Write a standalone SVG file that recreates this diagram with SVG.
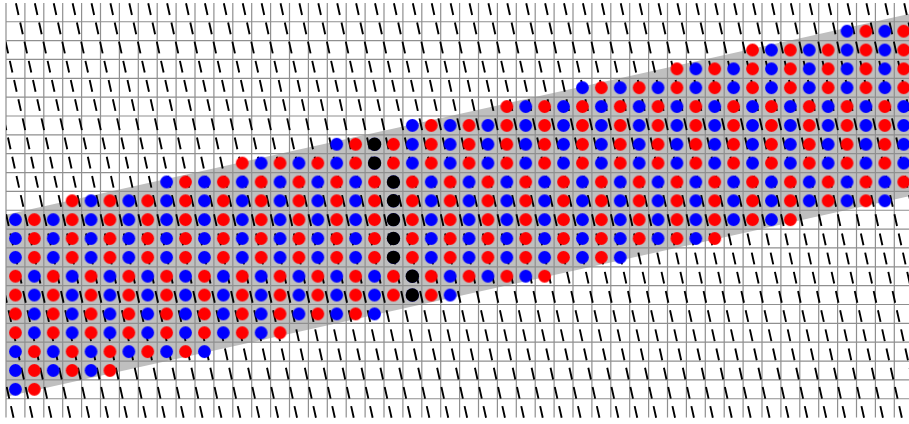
<svg xmlns="http://www.w3.org/2000/svg" xmlns:xlink="http://www.w3.org/1999/xlink" width="909" height="424" viewBox="0 0 909 424">
<style>
.grid{fill:none;stroke:#8f8f8f;stroke-width:1.2}
.seg{stroke:#000;stroke-width:1.9;stroke-dasharray:11.99 7.66;fill:none}
.band{fill:#bfbfbf}
.blk{fill:#000}
</style>
<defs>
<pattern id="pE" patternUnits="userSpaceOnUse" x="6" y="2.9" width="37.8" height="18.85">
<circle cx="9.45" cy="9.425" r="6.4" fill="#ff0000"/><circle cx="28.35" cy="9.425" r="6.4" fill="#0000ff"/>
</pattern>
<pattern id="pO" patternUnits="userSpaceOnUse" x="6" y="2.9" width="37.8" height="18.85">
<circle cx="9.45" cy="9.425" r="6.4" fill="#0000ff"/><circle cx="28.35" cy="9.425" r="6.4" fill="#ff0000"/>
</pattern>
<clipPath id="cl"><rect x="6" y="0" width="903" height="424"/></clipPath>
<line id="L" x1="15.93" y1="3.3" x2="108.09" y2="418"/>
</defs>
<rect width="909" height="424" fill="#fff"/>
<g id="band"><polygon class="band" points="6,214.67 909,14 909,196.2 6,396.87"/></g>
<g id="grid">
<path class="grid" d="M6 2.9V417.6M24.9 2.9V417.6M43.8 2.9V417.6M62.7 2.9V417.6M81.6 2.9V417.6M100.5 2.9V417.6M119.4 2.9V417.6M138.3 2.9V417.6M157.2 2.9V417.6M176.1 2.9V417.6M195 2.9V417.6M213.9 2.9V417.6M232.8 2.9V417.6M251.7 2.9V417.6M270.6 2.9V417.6M289.5 2.9V417.6M308.4 2.9V417.6M327.3 2.9V417.6M346.2 2.9V417.6M365.1 2.9V417.6M384 2.9V417.6M402.9 2.9V417.6M421.8 2.9V417.6M440.7 2.9V417.6M459.6 2.9V417.6M478.5 2.9V417.6M497.4 2.9V417.6M516.3 2.9V417.6M535.2 2.9V417.6M554.1 2.9V417.6M573 2.9V417.6M591.9 2.9V417.6M610.8 2.9V417.6M629.7 2.9V417.6M648.6 2.9V417.6M667.5 2.9V417.6M686.4 2.9V417.6M705.3 2.9V417.6M724.2 2.9V417.6M743.1 2.9V417.6M762 2.9V417.6M780.9 2.9V417.6M799.8 2.9V417.6M818.7 2.9V417.6M837.6 2.9V417.6M856.5 2.9V417.6M875.4 2.9V417.6M894.3 2.9V417.6
M6 21.75H909M6 40.6H909M6 59.45H909M6 78.3H909M6 97.15H909M6 116H909M6 134.85H909M6 153.7H909M6 172.55H909M6 191.4H909M6 210.25H909M6 229.1H909M6 247.95H909M6 266.8H909M6 285.65H909M6 304.5H909M6 323.35H909M6 342.2H909M6 361.05H909M6 379.9H909M6 398.75H909"/>
</g>
<g id="segments" class="seg" clip-path="url(#cl)">
<use xlink:href="#L" x="-94.5"/><use xlink:href="#L" x="-75.6"/><use xlink:href="#L" x="-56.7"/><use xlink:href="#L" x="-37.8"/><use xlink:href="#L" x="-18.9"/>
<use xlink:href="#L" x="0"/><use xlink:href="#L" x="18.9"/><use xlink:href="#L" x="37.8"/><use xlink:href="#L" x="56.7"/><use xlink:href="#L" x="75.6"/>
<use xlink:href="#L" x="94.5"/><use xlink:href="#L" x="113.4"/><use xlink:href="#L" x="132.3"/><use xlink:href="#L" x="151.2"/><use xlink:href="#L" x="170.1"/>
<use xlink:href="#L" x="189"/><use xlink:href="#L" x="207.9"/><use xlink:href="#L" x="226.8"/><use xlink:href="#L" x="245.7"/><use xlink:href="#L" x="264.6"/>
<use xlink:href="#L" x="283.5"/><use xlink:href="#L" x="302.4"/><use xlink:href="#L" x="321.3"/><use xlink:href="#L" x="340.2"/><use xlink:href="#L" x="359.1"/>
<use xlink:href="#L" x="378"/><use xlink:href="#L" x="396.9"/><use xlink:href="#L" x="415.8"/><use xlink:href="#L" x="434.7"/><use xlink:href="#L" x="453.6"/>
<use xlink:href="#L" x="472.5"/><use xlink:href="#L" x="491.4"/><use xlink:href="#L" x="510.3"/><use xlink:href="#L" x="529.2"/><use xlink:href="#L" x="548.1"/>
<use xlink:href="#L" x="567"/><use xlink:href="#L" x="585.9"/><use xlink:href="#L" x="604.8"/><use xlink:href="#L" x="623.7"/><use xlink:href="#L" x="642.6"/>
<use xlink:href="#L" x="661.5"/><use xlink:href="#L" x="680.4"/><use xlink:href="#L" x="699.3"/><use xlink:href="#L" x="718.2"/><use xlink:href="#L" x="737.1"/>
<use xlink:href="#L" x="756"/><use xlink:href="#L" x="774.9"/><use xlink:href="#L" x="793.8"/><use xlink:href="#L" x="812.7"/><use xlink:href="#L" x="831.6"/>
<use xlink:href="#L" x="850.5"/><use xlink:href="#L" x="869.4"/><use xlink:href="#L" x="888.3"/>
</g>
<g id="dots">
<rect x="837.6" y="21.75" width="75.6" height="18.85" fill="url(#pO)"/>
<rect x="743.1" y="40.6" width="170.1" height="18.85" fill="url(#pO)"/>
<rect x="667.5" y="59.45" width="245.7" height="18.85" fill="url(#pO)"/>
<rect x="573" y="78.3" width="340.2" height="18.85" fill="url(#pO)"/>
<rect x="497.4" y="97.15" width="415.8" height="18.85" fill="url(#pE)"/>
<rect x="402.9" y="116" width="510.3" height="18.85" fill="url(#pE)"/>
<rect x="327.3" y="134.85" width="585.9" height="18.85" fill="url(#pE)"/>
<rect x="232.8" y="153.7" width="680.4" height="18.85" fill="url(#pE)"/>
<rect x="157.2" y="172.55" width="756" height="18.85" fill="url(#pO)"/>
<rect x="62.7" y="191.4" width="831.6" height="18.85" fill="url(#pO)"/>
<rect x="6" y="210.25" width="793.8" height="18.85" fill="url(#pO)"/>
<rect x="6" y="229.1" width="718.2" height="18.85" fill="url(#pO)"/>
<rect x="6" y="247.95" width="623.7" height="18.85" fill="url(#pO)"/>
<rect x="6" y="266.8" width="548.1" height="18.85" fill="url(#pE)"/>
<rect x="6" y="285.65" width="453.6" height="18.85" fill="url(#pE)"/>
<rect x="6" y="304.5" width="378" height="18.85" fill="url(#pE)"/>
<rect x="6" y="323.35" width="283.5" height="18.85" fill="url(#pE)"/>
<rect x="6" y="342.2" width="207.9" height="18.85" fill="url(#pO)"/>
<rect x="6" y="361.05" width="113.4" height="18.85" fill="url(#pO)"/>
<rect x="6" y="379.9" width="37.8" height="18.85" fill="url(#pO)"/>
</g>
<g id="black-column">
<circle class="blk" cx="374.55" cy="144.25" r="6.7"/>
<circle class="blk" cx="374.55" cy="163.1" r="6.7"/>
<circle class="blk" cx="393.45" cy="181.95" r="6.7"/>
<circle class="blk" cx="393.45" cy="200.8" r="6.7"/>
<circle class="blk" cx="393.45" cy="219.65" r="6.7"/>
<circle class="blk" cx="393.45" cy="238.5" r="6.7"/>
<circle class="blk" cx="393.45" cy="257.35" r="6.7"/>
<circle class="blk" cx="412.35" cy="276.2" r="6.7"/>
<circle class="blk" cx="412.35" cy="295.05" r="6.7"/>
</g>
</svg>
